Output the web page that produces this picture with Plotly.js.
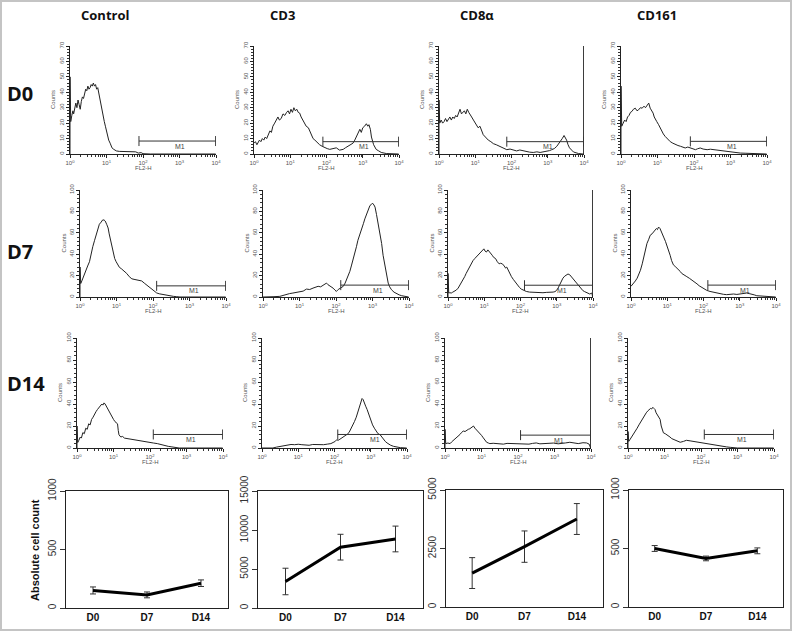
<!DOCTYPE html>
<html><head><meta charset="utf-8">
<script src="https://cdn.plot.ly/plotly-3.0.1.min.js"></script>
<style>html,body{margin:0;padding:0;background:#fff}#chart{width:792px;height:631px}</style>
</head><body><div id="chart"></div>
<script>
// ---------- DATA ----------
const markers = ['Control', 'CD3', 'CD8α', 'CD161'];
const days = ['D0', 'D7', 'D14'];
const decadeLabels = ['10<sup>0</sup>', '10<sup>1</sup>', '10<sup>2</sup>', '10<sup>3</sup>', '10<sup>4</sup>'];

// Histograms: [FL2-H position in log10 decades, Counts]
const d0Control = [[0,0],[0,50],[0.02,21],[0.05,25],[0.08,28],[0.1,26],[0.13,31],[0.16,33],[0.19,30],[0.22,35],[0.25,32],[0.28,29],[0.31,34],[0.34,37],[0.37,36],[0.4,40],[0.43,42],[0.46,41],[0.49,44],[0.52,42],[0.55,43],[0.58,45],[0.61,44],[0.64,46],[0.67,44],[0.7,45],[0.73,42],[0.76,43],[0.79,39],[0.82,36],[0.85,33],[0.88,28],[0.91,25],[0.94,21],[0.97,18],[1.0,15],[1.03,11],[1.06,9],[1.1,7],[1.15,4],[1.2,3],[1.27,2],[1.35,1.7],[1.5,1.5],[1.65,1.3],[1.8,1.4],[1.87,0.6],[1.95,0.9],[2.0,0.2],[2.2,0],[3.99,0]];

const d0Cd3 = [[0,7],[0.04,8],[0.08,6],[0.11,7],[0.15,9],[0.19,8],[0.23,10],[0.27,9],[0.31,11],[0.35,10],[0.39,12],[0.44,15],[0.48,14],[0.52,18],[0.57,20],[0.61,22],[0.66,24],[0.7,22],[0.75,23],[0.8,26],[0.85,25],[0.9,27],[0.94,28],[0.98,26],[1.02,29],[1.06,27],[1.1,30],[1.14,28],[1.18,29],[1.22,27],[1.26,26.5],[1.3,24],[1.35,22],[1.4,20],[1.44,18],[1.5,17],[1.54,15],[1.59,12],[1.63,10],[1.68,9],[1.72,8],[1.77,7],[1.81,6],[1.88,5],[1.95,4],[2.02,3.5],[2.09,3],[2.18,3.5],[2.27,4],[2.36,2.5],[2.46,3],[2.52,4],[2.59,5],[2.66,5.5],[2.73,7],[2.78,9],[2.82,11],[2.87,13],[2.92,16],[2.96,14],[3.0,17],[3.05,18],[3.1,19.6],[3.14,18],[3.17,19],[3.21,16],[3.24,11],[3.3,6],[3.37,3],[3.44,2],[3.51,1],[3.65,0.3],[3.8,0],[3.99,0]];

const d0Cd8 = [[0,0],[0,35],[0.02,20],[0.06,22],[0.1,20],[0.14,21],[0.18,23],[0.22,21],[0.26,22.6],[0.3,24],[0.34,22],[0.38,24],[0.42,23],[0.46,25],[0.5,24],[0.54,27],[0.58,29],[0.62,26],[0.66,27],[0.7,28],[0.74,26],[0.78,29],[0.82,27],[0.86,25],[0.9,24],[0.95,22],[1.0,20],[1.04,19],[1.08,17],[1.13,18],[1.18,14],[1.22,12.5],[1.28,11],[1.36,9],[1.43,8],[1.5,6.7],[1.58,6],[1.68,5],[1.78,4],[1.87,2.8],[1.96,3.2],[2.05,2.4],[2.14,2],[2.23,2.6],[2.32,2],[2.42,1.7],[2.5,1.2],[2.6,1],[2.7,1.4],[2.79,1],[2.88,1.3],[2.97,1.7],[3.05,2.2],[3.11,2.8],[3.18,3.5],[3.25,5],[3.3,6.5],[3.34,8],[3.4,10],[3.45,12],[3.49,10.5],[3.52,9],[3.56,6],[3.6,4],[3.66,2.5],[3.71,1.3],[3.78,0.8],[3.85,0.3],[3.97,0],[3.99,0],[3.99,90]];

const d0Cd161 = [[0,0],[0,44],[0.02,18],[0.06,20],[0.1,22],[0.14,21],[0.18,24],[0.22,25],[0.26,27],[0.3,27.6],[0.34,29],[0.39,29.7],[0.44,28],[0.48,28.6],[0.53,30],[0.58,29.7],[0.63,31],[0.67,30],[0.72,32],[0.76,33],[0.8,29.7],[0.84,28],[0.88,26.5],[0.91,24],[0.94,23],[0.98,21],[1.03,19],[1.07,17],[1.12,14.6],[1.16,13],[1.21,11.4],[1.28,9.5],[1.35,8],[1.42,7],[1.49,6],[1.56,5.5],[1.63,5],[1.7,4.2],[1.76,3.9],[1.83,4.5],[1.9,3.9],[1.97,3.2],[2.04,2.8],[2.1,3.4],[2.17,3.9],[2.25,3.2],[2.36,2.8],[2.45,3.1],[2.54,2.8],[2.63,2.6],[2.72,2.4],[2.8,1.8],[2.9,1.5],[3.0,1.2],[3.09,1],[3.18,0.8],[3.27,0.6],[3.4,0.5],[3.54,0.4],[3.7,0.2],[3.8,0],[3.99,0]];

const d7Control = [[0,0],[0,28],[0.02,12.6],[0.05,15],[0.07,17],[0.11,20],[0.16,25],[0.21,29],[0.26,33],[0.3,40],[0.35,47],[0.4,53],[0.44,58],[0.49,64],[0.53,68],[0.58,70],[0.62,72],[0.66,72],[0.69,71],[0.73,68],[0.77,64.5],[0.8,59],[0.84,53],[0.88,46],[0.91,41],[0.95,36],[0.99,33],[1.04,30],[1.08,27.7],[1.13,26.5],[1.19,25],[1.24,23],[1.28,22],[1.35,19],[1.42,17],[1.48,16.5],[1.55,16],[1.62,15.5],[1.69,15],[1.76,13],[1.83,11],[1.9,9.5],[1.96,8],[2.03,6],[2.1,3.8],[2.17,3],[2.24,2.5],[2.3,2],[2.37,1.6],[2.46,1.2],[2.56,0.6],[2.65,0.3],[2.74,0],[3.99,0]];

const d7Cd3 = [[0,0],[0.18,0.6],[0.3,0.3],[0.46,0.6],[0.55,1.5],[0.64,2.8],[0.73,3.2],[0.82,3.7],[0.91,4.2],[1.0,4.3],[1.1,5.5],[1.19,7.4],[1.28,7],[1.37,8.3],[1.44,9],[1.51,10],[1.58,9.5],[1.65,11.4],[1.7,12],[1.74,13],[1.78,11.5],[1.83,10.5],[1.88,9.5],[1.92,8.3],[1.97,6.5],[2.01,5.2],[2.06,7],[2.11,8.3],[2.16,9],[2.2,10],[2.25,13],[2.29,16],[2.33,20],[2.38,24],[2.42,29],[2.47,34.6],[2.51,41],[2.56,47],[2.6,53],[2.65,59],[2.7,64],[2.75,68.5],[2.79,73],[2.84,77.8],[2.88,82],[2.93,85.5],[2.97,86.5],[3.0,87.7],[3.04,86],[3.07,84],[3.11,77],[3.16,68.5],[3.2,60],[3.25,50],[3.29,39],[3.34,28.4],[3.38,20],[3.43,13],[3.47,9.5],[3.52,6.8],[3.59,4.5],[3.66,3],[3.73,2],[3.8,1.2],[3.87,0.6],[3.94,0.3],[3.99,0]];

const d7Cd8 = [[0,0],[0,22],[0.02,3.7],[0.05,4],[0.09,3.7],[0.13,4.5],[0.18,5.2],[0.23,6.5],[0.28,8.3],[0.32,10.5],[0.37,13],[0.41,16],[0.46,19],[0.5,22],[0.55,25],[0.59,28],[0.64,31.5],[0.69,34],[0.74,36],[0.78,37.5],[0.83,39],[0.87,41],[0.92,42],[0.95,44],[0.99,45],[1.02,43],[1.06,42],[1.1,44],[1.13,43],[1.17,41],[1.22,39],[1.26,37],[1.31,36],[1.36,33],[1.41,31],[1.45,31.5],[1.5,31],[1.55,29],[1.59,27],[1.62,28],[1.66,25],[1.7,22],[1.75,19],[1.8,16.5],[1.84,14.5],[1.88,12.5],[1.93,10.5],[1.97,9],[2.02,7.4],[2.09,6],[2.16,5.2],[2.25,4.6],[2.34,4.3],[2.44,4],[2.53,4.3],[2.62,4],[2.71,4.3],[2.8,4.2],[2.9,4.6],[2.95,5],[2.99,6],[3.04,8.5],[3.08,11.4],[3.13,14.5],[3.17,17.6],[3.22,19.5],[3.26,20.7],[3.31,21.5],[3.36,20.7],[3.4,19],[3.45,17.6],[3.5,15.5],[3.54,13.6],[3.59,12],[3.63,10],[3.68,8],[3.72,6],[3.77,5],[3.82,4.3],[3.87,3.5],[3.91,2.8],[3.97,3.7],[3.99,0],[3.99,120]];

const d7Cd161 = [[0,10],[0.04,11.5],[0.07,13],[0.12,15],[0.17,17.6],[0.22,21],[0.26,25],[0.31,31],[0.35,37.6],[0.4,44],[0.44,50],[0.49,54],[0.53,57.7],[0.58,59],[0.62,60.8],[0.66,62.5],[0.7,64],[0.73,63],[0.76,65.4],[0.8,64],[0.83,62],[0.87,59],[0.9,56],[0.95,52],[0.99,48.5],[1.03,44],[1.08,39],[1.12,34],[1.17,30],[1.22,28.5],[1.27,27],[1.31,25],[1.36,23.8],[1.4,22],[1.45,20.7],[1.5,20],[1.54,19],[1.61,17.5],[1.68,16],[1.75,14],[1.82,12.3],[1.88,10.5],[1.95,9],[2.02,7.5],[2.09,6.2],[2.18,5.2],[2.28,4.3],[2.37,3.5],[2.46,3],[2.55,2.5],[2.64,2.2],[2.73,2.6],[2.83,2.8],[2.92,2.4],[3.01,2.8],[3.1,3.2],[3.19,3.7],[3.26,3.2],[3.33,2.8],[3.4,2],[3.47,1.2],[3.56,0.9],[3.65,0.6],[3.74,0.4],[3.83,0.3],[3.99,0]];

const d14Control = [[0,0],[0,20],[0.02,5],[0.05,7],[0.09,10],[0.12,9],[0.16,14],[0.2,13],[0.24,18],[0.28,17],[0.32,22],[0.36,21],[0.4,26],[0.44,28],[0.48,31],[0.52,33],[0.56,35],[0.6,37],[0.64,38],[0.68,40],[0.71,39],[0.74,41],[0.77,40],[0.8,38],[0.84,36],[0.88,34],[0.92,31],[0.96,28],[1.0,26],[1.04,24],[1.08,23],[1.11,22],[1.13,16],[1.15,12],[1.2,10],[1.25,10.5],[1.3,9],[1.38,8.5],[1.45,8],[1.52,7.5],[1.6,7],[1.7,6.5],[1.8,6],[1.9,5.5],[2.0,5],[2.1,4.5],[2.2,4],[2.3,3],[2.4,2],[2.5,1.5],[2.6,1],[2.7,0.5],[2.8,0],[3.99,0]];

const d14Cd3 = [[0,0],[0.3,0],[0.4,0.8],[0.5,1.5],[0.6,2],[0.7,2.5],[0.8,3.2],[0.9,3],[1.0,3.4],[1.1,3],[1.2,2.8],[1.3,2.5],[1.4,3.2],[1.5,3],[1.6,2.8],[1.7,3],[1.8,3.5],[1.9,4],[1.96,5],[2.02,6],[2.06,7.5],[2.1,7],[2.15,8],[2.2,9],[2.25,10],[2.3,11],[2.35,12.5],[2.4,14],[2.45,17],[2.5,20],[2.55,24],[2.6,28],[2.65,33],[2.7,38],[2.73,42],[2.76,45],[2.79,44],[2.82,42],[2.86,38],[2.9,35],[2.95,30],[3.0,25],[3.05,21],[3.1,18],[3.15,15],[3.2,13],[3.26,12],[3.3,10],[3.35,8],[3.4,6],[3.45,4.6],[3.5,3.5],[3.55,2.5],[3.63,1.5],[3.72,0.8],[3.82,0.3],[3.99,0]];

const d14Cd8 = [[0,0],[0,17],[0.02,4],[0.08,4.5],[0.14,4],[0.18,5.5],[0.23,7],[0.27,8],[0.32,9],[0.36,11],[0.41,12.3],[0.45,14],[0.5,15.4],[0.55,15],[0.59,16.3],[0.64,17],[0.68,17.5],[0.73,19],[0.78,20],[0.82,18],[0.87,16.3],[0.91,15],[0.96,13.8],[1.0,11.5],[1.05,9.2],[1.1,7],[1.14,5.2],[1.19,4.5],[1.23,4],[1.32,4.3],[1.42,4],[1.5,3.6],[1.6,3.5],[1.7,4.2],[1.8,4],[1.92,3.6],[2.05,4],[2.15,3.4],[2.3,3.5],[2.4,4.2],[2.5,4.6],[2.6,3.8],[2.75,4],[2.85,4.8],[2.97,4.5],[3.1,3.8],[3.2,4],[3.3,4.6],[3.42,5.2],[3.55,4.2],[3.65,4],[3.78,4.8],[3.88,4.6],[3.95,3.5],[3.99,0],[3.99,120]];

const d14Cd161 = [[0,0],[0,15],[0.02,6],[0.06,8],[0.1,10],[0.15,12],[0.2,15],[0.25,18],[0.3,21],[0.35,24],[0.4,27],[0.45,30],[0.5,32],[0.55,34],[0.59,35],[0.62,36],[0.65,35.5],[0.68,37],[0.71,36],[0.74,35],[0.77,32],[0.8,30],[0.84,28],[0.88,26],[0.91,20],[0.94,16],[0.97,13.8],[1.02,13],[1.06,12.3],[1.1,11],[1.15,10],[1.2,8.5],[1.25,7.7],[1.34,6],[1.43,5.2],[1.52,6],[1.6,7],[1.7,6.5],[1.79,6],[1.88,5],[1.97,4.6],[2.06,4.2],[2.15,4],[2.25,3.5],[2.34,3],[2.43,2.2],[2.52,1.5],[2.61,1.2],[2.7,1],[2.8,0.6],[2.88,0.3],[3.0,0],[3.99,0]];

// M1 gates (start in log10 decades, level in counts), row-major D0..D14 x Control..CD161
const gateStart = [1.89, 1.9, 1.87, 1.9, 2.1, 2.13, 2.11, 2.12, 2.09, 2.09, 2.07, 2.09];
const gateLevel = [8.4, 8, 8, 8.2, 10.4, 11.1, 11, 11.1, 12.3, 12.3, 11.7, 12.3];

// Absolute cell counts (mean and error)
const controlMean = [150, 112, 212];
const controlErr = [30, 25, 28];
const cd3Mean = [3400, 7800, 8850];
const cd3Err = [1700, 1650, 1650];
const cd8Mean = [1450, 2580, 3760];
const cd8Err = [660, 670, 660];
const cd161Mean = [500, 415, 480];
const cd161Err = [25, 20, 25];

// ---------- LAYOUT HELPERS ----------
const W = 792, H = 631;
const px = v => v / W;
const py = v => 1 - v / H;
const SANS = 'Liberation Sans, Arial, sans-serif';

const hists = [d0Control, d0Cd3, d0Cd8, d0Cd161, d7Control, d7Cd3, d7Cd8, d7Cd161, d14Control, d14Cd3, d14Cd8, d14Cd161];

// pixel boxes [left, right, top, bottom]
const histBoxes = [
  [70, 216, 46, 154], [254, 399, 46, 154], [439, 584, 46, 154], [621, 767, 46, 154],
  [80, 226, 190, 297], [263, 409, 190, 297], [448, 593, 190, 297], [631, 776, 190, 297],
  [77, 223, 338, 448], [262, 407, 338, 448], [445, 591, 338, 448], [628, 774, 338, 448]
];
const lineBoxes = [[66, 228, 491, 608], [258, 423, 491, 608], [446, 603, 490, 607], [629, 783, 490, 607]];
const lineMeans = [controlMean, cd3Mean, cd8Mean, cd161Mean];
const lineErrs = [controlErr, cd3Err, cd8Err, cd161Err];
const lineRanges = [[0, 1000], [0, 15000], [0, 5000], [0, 1000]];
const lineTicks = [[0, 500, 1000], [0, 5000, 10000, 15000], [0, 2500, 5000], [0, 500, 1000]];

const minorX = [];
for (let n = 0; n < 4; n++) for (let k = 2; k <= 9; k++) minorX.push(n + Math.log10(k));

const traces = [];
const layout = {
  width: W, height: H, margin: {l: 0, r: 0, t: 0, b: 0},
  paper_bgcolor: '#fff', plot_bgcolor: 'rgba(0,0,0,0)',
  showlegend: false, shapes: [], annotations: [],
  font: {family: SANS}
};
const smallFont = {family: SANS, size: 6, color: '#555'};

histBoxes.forEach((b, i) => {
  const n = i + 1;
  const row = Math.floor(i / 4);
  const ymax = row === 0 ? 70 : 100;
  traces.push({
    type: 'scatter', mode: 'lines', x: hists[i].map(p => p[0]), y: hists[i].map(p => p[1]),
    xaxis: 'x' + n, yaxis: 'y' + n,
    line: {color: '#222', width: 1}, hoverinfo: 'skip'
  });
  layout['xaxis' + n] = {
    domain: [px(b[0]), px(b[1])], anchor: 'y' + n, range: [0, 4],
    tickmode: 'array', tickvals: [0, 1, 2, 3, 4], ticktext: decadeLabels,
    ticks: 'outside', ticklen: 3, tickcolor: '#222', tickwidth: 1,
    minor: {tickmode: 'array', tickvals: minorX, ticks: 'outside', ticklen: 2, tickcolor: '#333', showgrid: false},
    showline: true, linecolor: '#222', linewidth: 1, showgrid: false, zeroline: false,
    tickfont: smallFont, fixedrange: true
  };
  layout['yaxis' + n] = {
    domain: [py(b[3]), py(b[2])], anchor: 'x' + n, range: [0, ymax],
    tick0: 0, dtick: row === 0 ? 10 : 20, tickangle: -90,
    ticks: 'outside', ticklen: 3, tickcolor: '#222', tickwidth: 1,
    minor: {dtick: row === 0 ? 2 : 4, ticks: 'outside', ticklen: 2, tickcolor: '#333', showgrid: false},
    showline: true, linecolor: '#222', linewidth: 1, showgrid: false, zeroline: false,
    tickfont: smallFont, fixedrange: true
  };
  // axis titles
  layout.annotations.push({xref: 'paper', yref: 'paper', x: px(b[0] - 17), y: py((b[2] + b[3]) / 2),
    text: 'Counts', textangle: -90, showarrow: false, font: smallFont, xanchor: 'center', yanchor: 'middle'});
  layout.annotations.push({xref: 'paper', yref: 'paper', x: px((b[0] + b[1]) / 2), y: py(b[3] + 14),
    text: 'FL2-H', showarrow: false, font: smallFont, xanchor: 'center', yanchor: 'middle'});
  // M1 gate
  const gs = gateStart[i], gl = gateLevel[i];
  const lc = {color: '#333', width: 1};
  layout.shapes.push({type: 'line', xref: 'x' + n, yref: 'y' + n, x0: gs, x1: 3.99, y0: gl, y1: gl, line: lc});
  [gs, 3.99].forEach(xv => layout.shapes.push({type: 'line', xref: 'x' + n, yref: 'y' + n,
    x0: xv, x1: xv, ysizemode: 'pixel', yanchor: gl, y0: -5, y1: 5, line: lc}));
  layout.annotations.push({xref: 'x' + n, yref: 'y' + n, x: (gs + 4) / 2 + 0.08, y: gl, yshift: -5,
    xanchor: 'center', yanchor: 'middle',
    text: 'M1', showarrow: false, font: {family: SANS, size: 7, color: '#444'}});
});

lineBoxes.forEach((b, i) => {
  const n = 13 + i;
  traces.push({
    type: 'scatter', mode: 'lines', x: days, y: lineMeans[i],
    xaxis: 'x' + n, yaxis: 'y' + n,
    line: {color: '#000', width: 3},
    error_y: {type: 'data', array: lineErrs[i], visible: true, color: '#333', thickness: 1, width: 3},
    hoverinfo: 'skip'
  });
  layout['xaxis' + n] = {
    domain: [px(b[0]), px(b[1])], anchor: 'y' + n, type: 'category', range: [-0.5, 2.5],
    ticks: '', showline: true, mirror: true, linecolor: '#222', linewidth: 1,
    showgrid: false, zeroline: false, fixedrange: true,
    tickfont: {family: SANS, size: 10, color: '#111', weight: 'bold'}
  };
  layout['yaxis' + n] = {
    domain: [py(b[3]), py(b[2])], anchor: 'x' + n, range: lineRanges[i],
    tickmode: 'array', tickvals: lineTicks[i], ticktext: lineTicks[i].map(String), tickangle: -90,
    ticks: 'outside', ticklen: 5, tickcolor: '#333',
    showline: true, mirror: true, linecolor: '#222', linewidth: 1,
    showgrid: false, zeroline: false, fixedrange: true,
    tickfont: {family: SANS, size: 10, color: '#333'}
  };
});

layout.annotations.push({xref: 'paper', yref: 'paper', x: px(35), y: py(550), text: 'Absolute cell count',
  textangle: -90, showarrow: false, xanchor: 'center', yanchor: 'middle',
  font: {family: SANS, size: 11, color: '#111', weight: 'bold'}});

// Column titles
const colX = [105, 282, 477, 657];
markers.forEach((m, i) => layout.annotations.push({xref: 'paper', yref: 'paper', x: px(colX[i]), y: py(15),
  text: m, showarrow: false, xanchor: 'center', yanchor: 'middle',
  font: {family: 'Open Sans, sans-serif', size: 13, color: '#111', weight: 'bold'}}));
// Row labels
const rowY = [94, 251, 383];
days.forEach((d, i) => layout.annotations.push({xref: 'paper', yref: 'paper', x: px(5), y: py(rowY[i]),
  text: d, showarrow: false, xanchor: 'left', yanchor: 'middle',
  font: {family: 'Open Sans, sans-serif', size: 20, color: '#111', weight: 'bold'}}));

// outer frame
layout.shapes.push({type: 'rect', xref: 'paper', yref: 'paper', x0: 0, x1: 1, y0: 0, y1: 1,
  line: {color: '#c4c4c4', width: 4}});

Plotly.newPlot('chart', traces, layout, {displayModeBar: false, staticPlot: true});
</script></body></html>
